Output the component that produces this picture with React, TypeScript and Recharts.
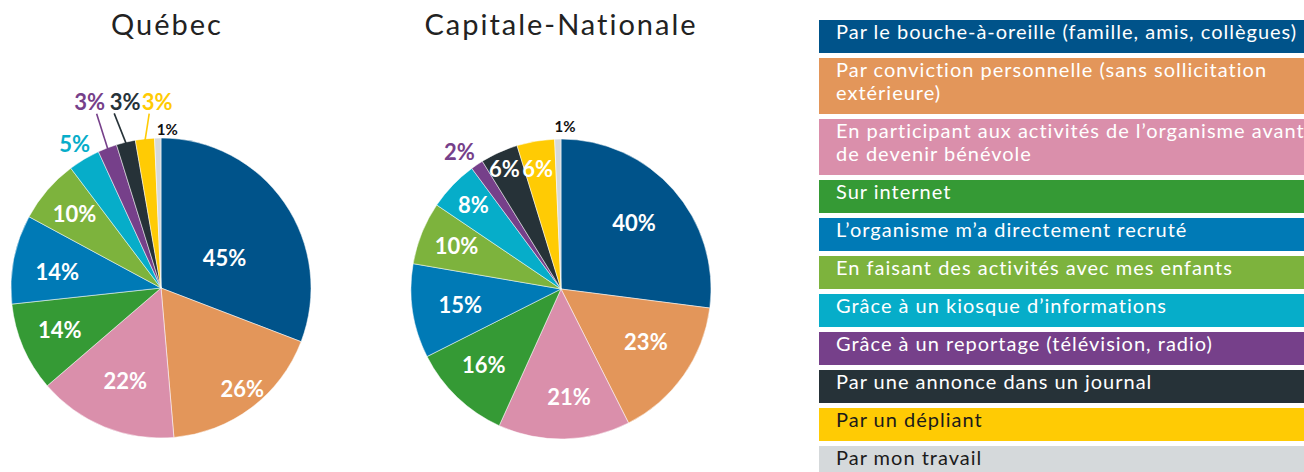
import React from 'react';
import { PieChart, Pie, Cell, Legend } from 'recharts';

const categories = [
    'Par le bouche-à-oreille (famille, amis, collègues)',
    'Par conviction personnelle (sans sollicitation\nextérieure)',
    'En participant aux activités de l\u2019organisme avant\nde devenir bénévole',
    'Sur internet',
    'L\u2019organisme m\u2019a directement recruté',
    'En faisant des activités avec mes enfants',
    'Grâce à un kiosque d\u2019informations',
    'Grâce à un reportage (télévision, radio)',
    'Par une annonce dans un journal',
    'Par un dépliant',
    'Par mon travail',
];

const quebecValues = [45, 26, 22, 14, 14, 10, 5, 3, 3, 3, 1];
const capitaleValues = [40, 23, 21, 16, 15, 10, 8, 2, 6, 6, 1];

const titles = ['Québec', 'Capitale-Nationale'];

const colors = [
    '#00538a', '#e3965a', '#da8fab', '#359a35', '#007ab6', '#7db33d',
    '#06adc9', '#76408a', '#263238', '#ffcb04', '#d5d9db',
];
const legendTextColors = [
    '#fff', '#fff', '#fff', '#fff', '#fff', '#fff', '#fff', '#fff', '#fff', '#1b1b1b', '#1b1b1b',
];

// label placement: radius factor, angle shift (deg, clockwise), optional leader line offset
type LabelPos = { rf: number; da: number; lx?: number };
const quebecLabels: LabelPos[] = [
    { rf: 0.47, da: 9 }, { rf: 0.86, da: -2 }, { rf: 0.66, da: -1 }, { rf: 0.73, da: 1 },
    { rf: 0.7, da: -2 }, { rf: 0.76, da: 0 }, { rf: 1.125, da: 0 },
    { rf: 1.33, da: 0, lx: 7 }, { rf: 1.267, da: 2.7, lx: -11 }, { rf: 1.243, da: 5, lx: -8 },
    { rf: 1.064, da: 3.5 },
];
const capitaleLabels: LabelPos[] = [
    { rf: 0.66, da: -1.2 }, { rf: 0.665, da: -3.6 }, { rf: 0.72, da: -3 }, { rf: 0.72, da: 1.8 },
    { rf: 0.68, da: -0.5 }, { rf: 0.755, da: 0.9 }, { rf: 0.81, da: 0 }, { rf: 1.14, da: -2.4 },
    { rf: 0.89, da: -0.8 }, { rf: 0.82, da: -1.2 }, { rf: 1.09, da: 2.6 },
];

const RAD = Math.PI / 180;
const FONT = 'Lato, "Open Sans", sans-serif';

const makeLabel = (layout: LabelPos[]) => (props: any) => {
    const { cx, cy, midAngle, outerRadius, index, value } = props;
    const cfg = layout[index];
    const clock = (90 - midAngle + cfg.da) * RAD;
    const r = outerRadius * cfg.rf;
    const x = cx + r * Math.sin(clock);
    const y = cy - r * Math.cos(clock);
    const small = value <= 1;
    const color = small ? '#111' : cfg.rf > 1 ? colors[index] : '#fff';
    let line = null;
    if (cfg.lx !== undefined) {
        const m = (90 - midAngle) * RAD;
        const ex = cx + outerRadius * 0.99 * Math.sin(m);
        const ey = cy - outerRadius * 0.99 * Math.cos(m);
        line = <line x1={x + cfg.lx} y1={y + 12} x2={ex} y2={ey} stroke={colors[index]} strokeWidth={1.6} />;
    }
    return (
        <g key={`lbl-${index}`}>
            {line}
            <text
                x={x}
                y={y}
                fill={color}
                textAnchor="middle"
                dominantBaseline="central"
                fontFamily={FONT}
                fontSize={small ? 15 : 22}
                fontWeight={700}
            >
                {`${value}%`}
            </text>
        </g>
    );
};

const LegendBoxes = () => (
    <div style={{ fontFamily: FONT, fontSize: 20, lineHeight: '23px', letterSpacing: 1 }}>
        {categories.map((c, i) => {
            const lines = c.split('\n').length;
            return (
                <div
                    key={c}
                    style={{
                        background: colors[i],
                        color: legendTextColors[i],
                        height: 33 + 23 * (lines - 1),
                        marginBottom: 5,
                        paddingLeft: 17,
                        boxSizing: 'border-box',
                        whiteSpace: 'pre',
                        overflow: 'hidden',
                    }}
                >
                    {c}
                </div>
            );
        })}
    </div>
);

const quebecData = categories.map((name, i) => ({ name, value: quebecValues[i] }));
const capitaleData = categories.map((name, i) => ({ name, value: capitaleValues[i] }));

const titleStyle: React.CSSProperties = {
    position: 'absolute',
    top: 9,
    width: 320,
    textAlign: 'center',
    fontFamily: FONT,
    fontSize: 29,
    lineHeight: '29px',
    letterSpacing: 2,
    color: '#222',
};

export default function App() {
    return (
        <div style={{ position: 'fixed', left: 0, top: 0, width: 1304, height: 472, background: '#fff', overflow: 'hidden' }}>
            <div style={{ ...titleStyle, left: 167 - 160 }}>{titles[0]}</div>
            <div style={{ ...titleStyle, left: 561 - 160 }}>{titles[1]}</div>
            <PieChart width={1304} height={472} margin={{ top: 0, right: 0, bottom: 0, left: 0 }}>
                <Pie
                    data={quebecData}
                    dataKey="value"
                    cx={161}
                    cy={288}
                    outerRadius={150}
                    startAngle={90}
                    endAngle={-270}
                    stroke="#fff"
                    strokeWidth={0.5}
                    labelLine={false}
                    label={makeLabel(quebecLabels)}
                    isAnimationActive={false}
                >
                    {quebecData.map((d, i) => (
                        <Cell key={d.name} fill={colors[i]} />
                    ))}
                </Pie>
                <Pie
                    data={capitaleData}
                    dataKey="value"
                    cx={561}
                    cy={289}
                    outerRadius={150}
                    startAngle={90}
                    endAngle={-270}
                    stroke="#fff"
                    strokeWidth={0.5}
                    labelLine={false}
                    label={makeLabel(capitaleLabels)}
                    isAnimationActive={false}
                >
                    {capitaleData.map((d, i) => (
                        <Cell key={d.name} fill={colors[i]} />
                    ))}
                </Pie>
                <Legend
                    layout="vertical"
                    align="right"
                    verticalAlign="top"
                    content={() => <LegendBoxes />}
                    wrapperStyle={{ position: 'absolute', left: 819, top: 20, width: 485 }}
                />
            </PieChart>
        </div>
    );
}
